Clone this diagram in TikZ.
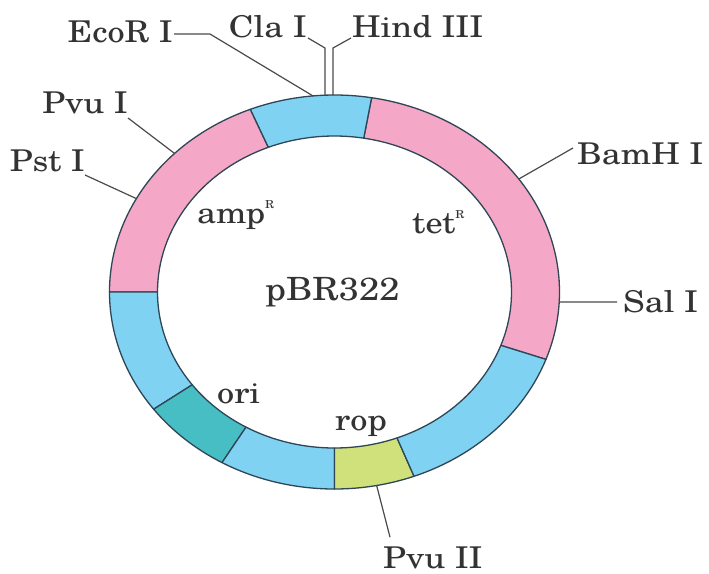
\documentclass[tikz,border=0pt]{standalone}
\usepackage{fontspec}
\setmainfont{TeX Gyre Schola}
\usetikzlibrary{calc}
\definecolor{pinkc}{HTML}{F4A7C7}
\definecolor{cyanc}{HTML}{80D2F2}
\definecolor{tealc}{HTML}{47BEC4}
\definecolor{yelc}{HTML}{D0E07A}
\definecolor{edgec}{HTML}{2E4656}
\definecolor{linec}{HTML}{4A4A4A}
\definecolor{textc}{HTML}{333333}
\newcommand{\wt}[1]{\scalebox{1.14}[1]{#1}}
\newcommand{\supR}{\raisebox{15pt}{\fontsize{11}{11}\selectfont R}}
\newcommand{\ringseg}[3]{\filldraw[fill=#3, segm] (#1:225 and 197) arc[start angle=#1, end angle=#2, x radius=225, y radius=197] -- (#2:177 and 156) arc[start angle=#2, end angle=#1, x radius=177, y radius=156] -- cycle;}
\begin{document}
\begin{tikzpicture}[x=1pt,y=1pt,
  lab/.style={font=\fontsize{30}{30}\selectfont, text=textc, inner sep=0pt},
  site/.style={draw=linec, line width=1.2pt},
  segm/.style={draw=edgec, line width=1.3pt, line join=round}]
\useasboundingbox (0,0) rectangle (709,-573);
\fill[white] (0,0) rectangle (709,-573);

\begin{scope}[shift={(334.5,-292)}]
\ringseg{-20}{80.5}{pinkc}
\ringseg{80.5}{112}{cyanc}
\ringseg{112}{180}{pinkc}
\ringseg{180}{216.5}{cyanc}
\ringseg{216.5}{240}{tealc}
\ringseg{240}{270}{cyanc}
\ringseg{270}{290.7}{yelc}
\ringseg{290.7}{340}{cyanc}
\coordinate (r-ecor) at (95.5:225 and 197);
\coordinate (r-cla) at (92.4:225 and 197);
\coordinate (r-hind) at (90.4:225 and 197);
\coordinate (r-pvu1) at (135.3:225 and 197);
\coordinate (r-pst) at (151.7:225 and 197);
\coordinate (r-bam) at (35:225 and 197);
\coordinate (r-sal) at (-2.9:225 and 197);
\coordinate (r-pvu2) at (-79.2:225 and 197);
\end{scope}

% labels
\node[lab, anchor=base east] (ecor) at (173,-42) {\wt{EcoR I}};
\node[lab, anchor=base east] (cla) at (307,-37) {\wt{Cla I}};
\node[lab, anchor=base west] (hind) at (352,-37) {\wt{Hind III}};
\node[lab, anchor=base east] (pvu1) at (128,-113) {\wt{Pvu I}};
\node[lab, anchor=base east] (pst) at (85,-171) {\wt{Pst I}};
\node[lab, anchor=base west] (bam) at (577,-164) {\wt{BamH I}};
\node[lab, anchor=base west] (sal) at (623,-312) {\wt{Sal I}};
\node[lab, anchor=base west] (pvu2) at (383,-568) {\wt{Pvu II}};
\node[lab, anchor=base west] (ori) at (217,-403) {\wt{ori}};
\node[lab, anchor=base west] (rop) at (335,-430) {\wt{rop}};
\node[lab, anchor=base west] (amp) at (197,-223) {\wt{amp\supR}};
\node[lab, anchor=base west] (tet) at (412,-233) {\wt{tet\supR}};
\node[lab, font=\fontsize{32}{32}\selectfont, anchor=base west] (pbr) at (265,-300) {\wt{pBR322}};

% connectors
\coordinate (ecor-k) at (210,-34);
\coordinate (cla-k) at (325,-48);
\coordinate (hind-k) at (333,-48);
\draw[site] ([xshift=1pt,yshift=8pt]ecor.base east) -- (ecor-k) -- (r-ecor);
\draw[site] ([xshift=1pt,yshift=-1pt]cla.base east) -- (cla-k) -- (r-cla);
\draw[site] ([xshift=-1pt,yshift=-1pt]hind.base west) -- (hind-k) -- (r-hind);
\draw[site] ([yshift=-5pt]pvu1.base east) -- (r-pvu1);
\draw[site] ([yshift=-4pt]pst.base east) -- (r-pst);
\draw[site] ([xshift=-4pt,yshift=16pt]bam.base west) -- (r-bam);
\draw[site] ([xshift=-6pt,yshift=10pt]sal.base west) -- (r-sal);
\draw[site] ([xshift=7pt,yshift=9pt]pvu2.north west) -- (r-pvu2);
\end{tikzpicture}
\end{document}
